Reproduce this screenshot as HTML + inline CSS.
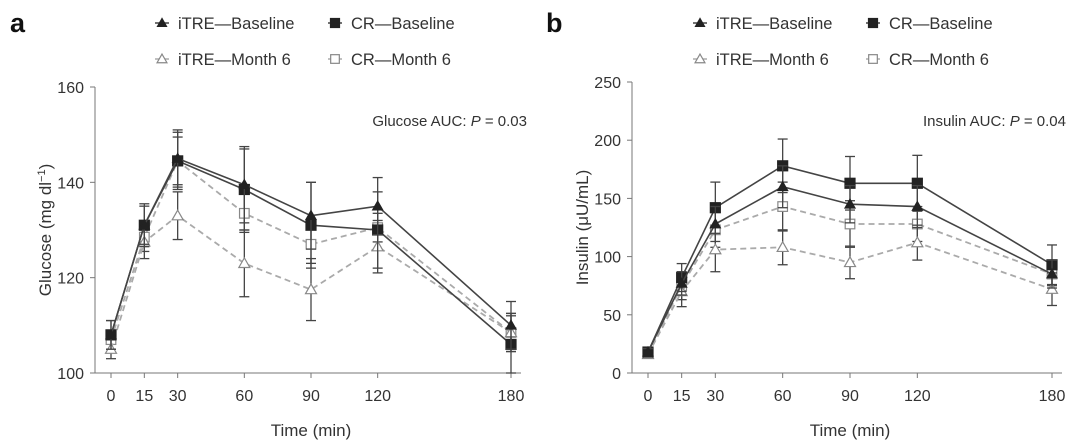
<!DOCTYPE html>
<html><head><meta charset="utf-8"><style>
body{margin:0;background:#fff;}
svg{display:block;font-family:"Liberation Sans",sans-serif;}
</style></head><body>
<svg id="chart" width="1080" height="448" viewBox="0 0 1080 448" xmlns="http://www.w3.org/2000/svg"></svg>
<script>
const times=[0,15,30,60,90,120,180];
const glucoseTicks=[100,120,140,160];
const insulinTicks=[0,50,100,150,200,250];
const gITREBase=[108,131,145,139.5,133,135,110];
const gITREBaseErr=[3,4.5,6,8,7,6,5];
const gCRBase=[108,131,144.5,138.5,131,130,106];
const gCRBaseErr=[3,4,6,8.5,9,8,6];
const gITREM6=[105,127.5,133,123,117.5,126.5,108.5];
const gITREM6Err=[2,3.5,5,7,6.5,5.5,4];
const gCRM6=[107,128.5,144.5,133.5,127,130.5,108.5];
const gCRM6Err=[2,3,5,4,4,3,4];
const iITREBase=[18,77,128,160,145,143,85];
const iITREBaseErr=[3,10,15,18,16,18,12];
const iCRBase=[18,82,142,178,163,163,93];
const iCRBaseErr=[3,12,22,23,23,24,17];
const iITREM6=[16,70,106,108,95,112,72];
const iITREM6Err=[2,13,19,15,14,15,14];
const iCRM6=[17,75,123,143,128,128,85];
const iCRM6Err=[2,12,15,21,20,15,10];

const NS="http://www.w3.org/2000/svg";
const svg=document.getElementById('chart');
function mk(tag,attrs,parent,text){const e=document.createElementNS(NS,tag);for(const k in attrs)e.setAttribute(k,attrs[k]);if(text!==undefined)e.textContent=text;(parent||svg).appendChild(e);return e;}

function marker(g,type,filled,x,y,col,sc){
  sc=sc||1;
  let e;
  if(type==='tri'){
    const s=(filled?5:5.5)*sc;
    e=mk('polygon',{points:`${x},${y-s} ${x-s},${y+s*0.75} ${x+s},${y+s*0.75}`,fill:filled?'#222':'#fff',stroke:col,'stroke-width':1.2},g);
  }else{
    const s=(filled?5:4.8)*sc;
    e=mk('rect',{x:x-s,y:y-s,width:2*s,height:2*s,fill:filled?'#222':'#fff',stroke:col,'stroke-width':1.2},g);
  }
  return e;
}

function panel(cfg){
  const {x0,x180,yBase,yTop,vMin,vMax,ticks,axisX,series,title,auc,aucX,letter,letterX,legX,key}=cfg;
  const xs=t=>x0+(x180-x0)*t/180;
  const ys=v=>yBase-(yBase-yTop)*(v-vMin)/(vMax-vMin);
  const g=mk('g',{});
  
  
  const L=mk('text',{x:letterX,y:32,'font-size':27,'font-weight':'bold',fill:'#111'},g,letter);
  
  const ya=mk('line',{x1:axisX,y1:yTop,x2:axisX,y2:yBase,stroke:'#777','stroke-width':1},g);
  
  const xa=mk('line',{x1:axisX,y1:yBase,x2:x180+10,y2:yBase,stroke:'#777','stroke-width':1},g);
  
  ticks.forEach(v=>{
    mk('line',{x1:axisX-5,y1:ys(v),x2:axisX,y2:ys(v),stroke:'#777'},g);
    const t=mk('text',{x:axisX-11,y:ys(v)+6,'font-size':16,'text-anchor':'end',fill:'#333'},g,v);
    
  });
  times.forEach(tm=>{
    mk('line',{x1:xs(tm),y1:yBase,x2:xs(tm),y2:yBase+5,stroke:'#777'},g);
    const t=mk('text',{x:xs(tm),y:yBase+28,'font-size':16,'text-anchor':'middle',fill:'#333'},g,tm);
    
  });
  const xt=mk('text',{x:(x0+x180)/2,y:436,'font-size':17,'text-anchor':'middle',fill:'#333'},g,'Time (min)');
  
  const yt=mk('text',{transform:`translate(${axisX-44},${(yTop+yBase)/2}) rotate(-90)`,'font-size':17,'text-anchor':'middle',fill:'#333'},g);
  yt.innerHTML=title;
  
  const at=mk('text',{x:aucX,y:126,'font-size':15,'text-anchor':'end',fill:'#333'},g);
  at.innerHTML=auc;
  
  series.slice().reverse().forEach(s=>{
    const sg=mk('g',{},g);
    
    s.vals.forEach((v,i)=>{
      const x=xs(times[i]),e=s.err[i];
      const eg=mk('g',{stroke:'#444','stroke-width':1.3},sg);
      
      mk('line',{x1:x,y1:ys(v+e),x2:x,y2:ys(v-e)},eg);
      mk('line',{x1:x-5,y1:ys(v+e),x2:x+5,y2:ys(v+e)},eg);
      mk('line',{x1:x-5,y1:ys(v-e),x2:x+5,y2:ys(v-e)},eg);
    });
    const pts=s.vals.map((v,i)=>xs(times[i])+','+ys(v)).join(' ');
    const pl=mk('polyline',{points:pts,fill:'none',stroke:s.filled?'#444':'#aaa','stroke-width':s.filled?1.6:1.8,'stroke-dasharray':s.filled?'none':'6,4'},sg);
    
    s.vals.forEach((v,i)=>{
      const m=marker(sg,s.type,s.filled,xs(times[i]),ys(v),s.filled?'#222':'#888');
      
    });
  });
  const lg=mk('g',{},g);
  
  const items=[['tri',true,'iTRE—Baseline',0,23],['sq',true,'CR—Baseline',173,23],['tri',false,'iTRE—Month 6',0,59],['sq',false,'CR—Month 6',173,59]];
  items.forEach(it=>{
    const eg=mk('g',{},lg);
    
    const mx=legX+it[3];
    mk('line',{x1:mx-7,y1:it[4],x2:mx+7,y2:it[4],stroke:it[1]?'#444':'#aaa','stroke-width':1.5},eg);
    marker(eg,it[0],it[1],mx,it[4],it[1]?'#222':'#888',0.9);
    mk('text',{x:mx+16,y:it[4]+6,'font-size':16.5,fill:'#333'},eg,it[2]);
  });
}

panel({key:'glucose',letter:'a',letterX:10,legX:162,x0:111,x180:511,yBase:373,yTop:87,vMin:100,vMax:160,ticks:glucoseTicks,axisX:95,
  title:'Glucose (mg dl<tspan dy="-6" font-size="11">−1</tspan><tspan dy="6">)</tspan>',
  auc:'Glucose AUC: <tspan font-style="italic">P</tspan> = 0.03',aucX:527,
  series:[
    {name:'itre-baseline',type:'tri',filled:true,vals:gITREBase,err:gITREBaseErr},
    {name:'cr-baseline',type:'sq',filled:true,vals:gCRBase,err:gCRBaseErr},
    {name:'itre-month6',type:'tri',filled:false,vals:gITREM6,err:gITREM6Err},
    {name:'cr-month6',type:'sq',filled:false,vals:gCRM6,err:gCRM6Err}]});
panel({key:'insulin',letter:'b',letterX:546,legX:700,x0:648,x180:1052,yBase:373,yTop:82,vMin:0,vMax:250,ticks:insulinTicks,axisX:632,
  title:'Insulin (μU/mL)',
  auc:'Insulin AUC: <tspan font-style="italic">P</tspan> = 0.04',aucX:1066,
  series:[
    {name:'itre-baseline',type:'tri',filled:true,vals:iITREBase,err:iITREBaseErr},
    {name:'cr-baseline',type:'sq',filled:true,vals:iCRBase,err:iCRBaseErr},
    {name:'itre-month6',type:'tri',filled:false,vals:iITREM6,err:iITREM6Err},
    {name:'cr-month6',type:'sq',filled:false,vals:iCRM6,err:iCRM6Err}]});
</script>
</body></html>
